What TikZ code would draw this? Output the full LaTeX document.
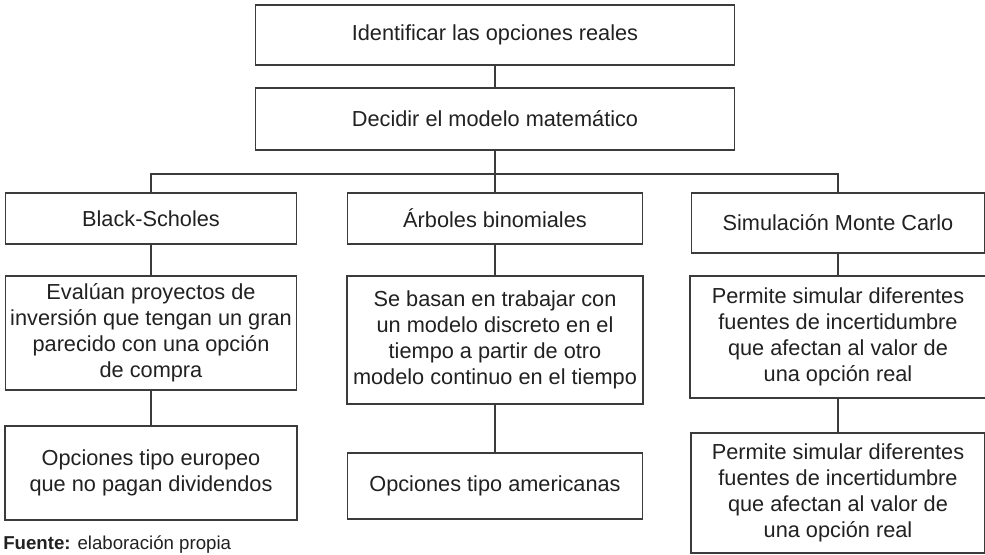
\documentclass[tikz,border=0pt]{standalone}
\usepackage{fontspec}
\setmainfont{Liberation Sans}
\definecolor{linecolor}{rgb}{0.23, 0.23, 0.23}
\definecolor{textcolor}{rgb}{0.13, 0.13, 0.13}
\usetikzlibrary{positioning}
\tikzset{
	block/.style={
		rectangle,
		draw=linecolor,
		line width=1.1pt,
		fill=white,
		text=textcolor,
		align=center,
		inner sep=2pt,
		font=\fontsize{16.3}{19.5}\selectfont
	},
	line/.style={
		draw=linecolor,
		line width=1.1pt
	},
}

\begin{document}
\begin{tikzpicture}[x=0.75pt,y=-0.75pt]
\useasboundingbox (0,0) rectangle (985,555);
\node [block,minimum width=359.25pt,minimum height=45pt] (ident) at (495,35) {Identificar las opciones reales};
\node [block,minimum width=359.25pt,minimum height=46.5pt] (modelo) at (495,119) {Decidir el modelo matemático};
\coordinate (bus) at (495,174);

% columna izquierda
\node [block,minimum width=218.25pt,minimum height=38.25pt] (bs) at (151,218.5) {Black-Scholes};
\node [block,minimum width=218.25pt,minimum height=85.5pt] (bsdesc) at (151,333) {Evalúan proyectos de\\inversión que tengan un gran\\parecido con una opción\\de compra};
\node [block,minimum width=219pt,minimum height=70.5pt] (bseuro) at (151,473) {Opciones tipo europeo\\que no pagan dividendos};

% columna central
\node [block,minimum width=221.25pt,minimum height=38.25pt] (arb) at (495,218.5) {Árboles binomiales};
\node [block,minimum width=222pt,minimum height=96pt] (arbdesc) at (495,340) {Se basan en trabajar con\\un modelo discreto en el\\tiempo a partir de otro\\modelo continuo en el tiempo};
\node [block,minimum width=221.25pt,minimum height=49.5pt] (arbamer) at (495,486) {Opciones tipo americanas};

% columna derecha
\node [block,minimum width=219.75pt,minimum height=45pt] (sim) at (838,223) {Simulación Monte Carlo};
\node [block,minimum width=222pt,minimum height=91.5pt] (simdesc) at (838,337) {Permite simular diferentes\\fuentes de incertidumbre\\que afectan al valor de\\una opción real};
\node [block,minimum width=220.5pt,minimum height=90pt] (simbot) at (838,493) {Permite simular diferentes\\fuentes de incertidumbre\\que afectan al valor de\\una opción real};

\node [anchor=base west,inner sep=0,text=textcolor,font=\fontsize{14}{17}\selectfont] (fuente) at (3,549.5) {\textbf{Fuente:} elaboración propia};

\path[line]
(ident) -- (modelo)
(modelo) -- (arb)
(bs.north) -- (bs.north |- bus) -- (sim.north |- bus) -- (sim.north)
(bs) -- (bsdesc)
(bsdesc) -- (bseuro)
(arb) -- (arbdesc)
(arbdesc) -- (arbamer)
(sim) -- (simdesc)
(simdesc) -- (simbot)
;
\end{tikzpicture}
\end{document}
